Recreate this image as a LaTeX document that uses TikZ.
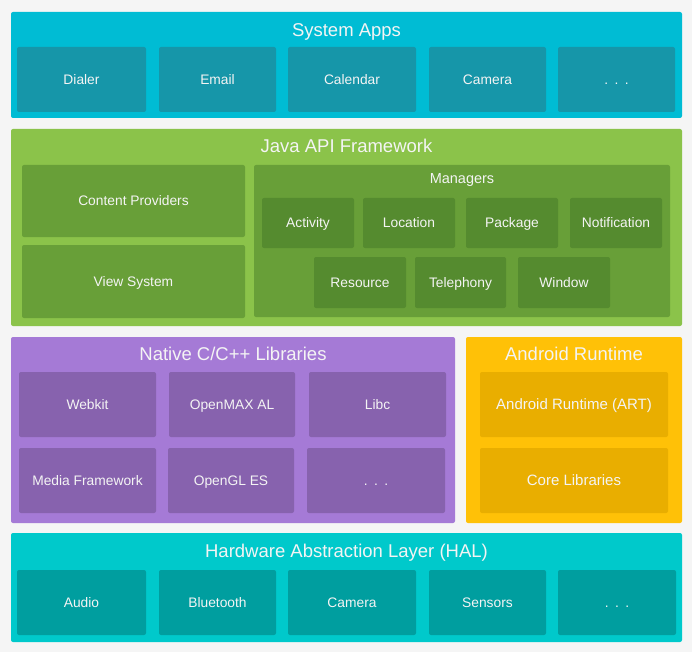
\documentclass[tikz,border=0pt]{standalone}
\usepackage{fontspec}
\setmainfont{Liberation Sans}
\definecolor{bg}{HTML}{F5F5F5}
\definecolor{appsOut}{HTML}{00BCD4}
\definecolor{appsIn}{HTML}{1696A9}
\definecolor{javaOut}{HTML}{8BC34A}
\definecolor{javaIn}{HTML}{689F38}
\definecolor{javaMgr}{HTML}{558B2F}
\definecolor{natOut}{HTML}{A57AD6}
\definecolor{natIn}{HTML}{8762AE}
\definecolor{artOut}{HTML}{FFC107}
\definecolor{artIn}{HTML}{E9AE00}
\definecolor{halOut}{HTML}{00C9CB}
\definecolor{halIn}{HTML}{009E9F}
\definecolor{txt}{HTML}{F4F4F4}
% \blk{name}{x1}{y1}{x2}{y2}{fill}{text}{fontsize}
\newcommand{\blk}[8]{%
  \node[blkbox, fill=#6, font=\fontsize{#8}{#8}\selectfont,
        text height=#8*0.72pt, text depth=0pt,
        minimum width=#4pt-#2pt, minimum height=#5pt-#3pt]
        (#1) at ({(#2+#4)/2},{(#3+#5)/2}) {#7};}
\newcommand{\threedots}{.\hspace{6.5pt}.\hspace{6.5pt}.}
\begin{document}
\begin{tikzpicture}[x=1pt,y=-1pt,
  blkbox/.style={rectangle, rounded corners=2pt, inner sep=0pt, text=txt, draw=none},
  titletxt/.style={text=txt, inner sep=0pt, font=\fontsize{18.5}{18.5}\selectfont,
    text height=13.3pt, text depth=0pt},
  subtxt/.style={text=txt, inner sep=0pt, font=\fontsize{14.5}{14.5}\selectfont,
    text height=10.4pt, text depth=0pt}]
\fill[bg] (0,0) rectangle (692,652);
\useasboundingbox (0,0) rectangle (692,652);
% System Apps
\blk{apps}{11}{12}{682}{118}{appsOut}{}{14}
\node[titletxt] (appsT) at (346.5,30) {System Apps};
\blk{dialer}{17}{47}{146}{112}{appsIn}{Dialer}{13.8}
\blk{email}{159}{47}{276}{112}{appsIn}{Email}{13.8}
\blk{calendar}{288}{47}{416}{112}{appsIn}{Calendar}{13.8}
\blk{camera}{429}{47}{546}{112}{appsIn}{Camera}{13.8}
\blk{appsmore}{558}{47}{675}{112}{appsIn}{\threedots}{13.8}
% Java API Framework
\blk{java}{11}{129}{682}{326}{javaOut}{}{14}
\node[titletxt] (javaT) at (346.5,146) {Java API Framework};
\blk{content}{22}{165}{245}{237}{javaIn}{Content Providers}{13.8}
\blk{view}{22}{245}{245}{318}{javaIn}{View System}{13.8}
\blk{managers}{254}{165}{670}{317}{javaIn}{}{13.8}
\node[subtxt] (mgrT) at (462,178.5) {Managers};
\blk{activity}{262}{198}{354}{248}{javaMgr}{Activity}{13.8}
\blk{location}{363}{198}{455}{248}{javaMgr}{Location}{13.8}
\blk{package}{466}{198}{558}{248}{javaMgr}{Package}{13.8}
\blk{notification}{570}{198}{662}{248}{javaMgr}{Notification}{13.8}
\blk{resource}{314}{257}{406}{308}{javaMgr}{Resource}{13.8}
\blk{telephony}{415}{257}{506}{308}{javaMgr}{Telephony}{13.8}
\blk{window}{518}{257}{610}{308}{javaMgr}{Window}{13.8}
% Native C/C++ Libraries
\blk{native}{11}{337}{455}{523}{natOut}{}{14}
\node[titletxt] (natT) at (233,354) {Native C/C++ Libraries};
\blk{webkit}{19}{372}{156}{437}{natIn}{Webkit}{13.8}
\blk{openmax}{169}{372}{295}{437}{natIn}{OpenMAX AL}{13.8}
\blk{libc}{309}{372}{446}{437}{natIn}{Libc}{13.8}
\blk{media}{19}{448}{156}{513}{natIn}{Media Framework}{13.8}
\blk{opengl}{168}{448}{294}{513}{natIn}{OpenGL ES}{13.8}
\blk{natmore}{307}{448}{445}{513}{natIn}{\threedots}{13.8}
% Android Runtime
\blk{runtime}{466}{337}{682}{523}{artOut}{}{14}
\node[titletxt] (artT) at (574,354) {Android Runtime};
\blk{art}{480}{372}{668}{437}{artIn}{Android Runtime (ART)}{15}
\blk{core}{480}{448}{668}{513}{artIn}{Core Libraries}{15}
% HAL
\blk{hal}{11}{533}{682}{642}{halOut}{}{14}
\node[titletxt] (halT) at (346.5,551) {Hardware Abstraction Layer (HAL)};
\blk{audio}{17}{570}{146}{635}{halIn}{Audio}{13.8}
\blk{bluetooth}{159}{570}{276}{635}{halIn}{Bluetooth}{13.8}
\blk{halcamera}{288}{570}{416}{635}{halIn}{Camera}{13.8}
\blk{sensors}{429}{570}{546}{635}{halIn}{Sensors}{13.8}
\blk{halmore}{558}{570}{676}{635}{halIn}{\threedots}{13.8}
\end{tikzpicture}
\end{document}
